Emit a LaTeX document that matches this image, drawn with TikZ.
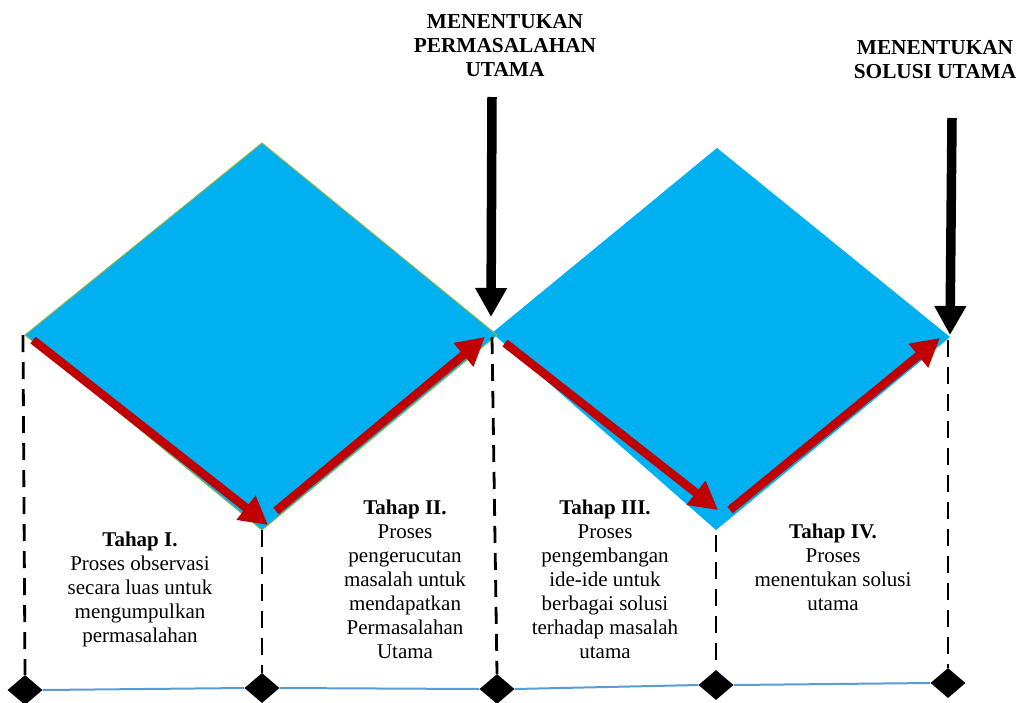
\documentclass[tikz,border=0pt]{standalone}
\usepackage{fontspec}
\setmainfont{Liberation Serif}
\usetikzlibrary{arrows.meta,shapes.geometric}
\definecolor{cyanfill}{HTML}{00B0F0}
\definecolor{darkred}{HTML}{C00000}
\definecolor{olivegreen}{HTML}{8DB548}
\definecolor{axisblue}{HTML}{5B9BD5}
\begin{document}
\begin{tikzpicture}[x=1pt,y=-1pt,
  redarrow/.style={draw=darkred,line width=8.5pt,-{Triangle[length=28pt,width=29pt]}},
  blackarrow/.style={draw=black,line width=9.5pt,-{Triangle[length=29pt,width=30pt]}},
  guide/.style={draw=black,line width=2.8pt,dash pattern=on 17pt off 10pt},
  marker/.style={diamond,fill=black,inner sep=0pt,minimum width=35pt,minimum height=30pt},
  phase/.style={align=center,inner sep=0pt,font=\fontsize{21}{24}\selectfont},
  headline/.style={align=center,inner sep=0pt,font=\bfseries\fontsize{21.3}{24}\selectfont}]
\useasboundingbox (0,0) rectangle (1019,702);
% diamond corners
\coordinate (aL) at (25,335);
\coordinate (aT) at (262,143);
\coordinate (aR) at (497,335);
\coordinate (aB) at (262,530);
\coordinate (bL) at (492,333);
\coordinate (bT) at (717,148);
\coordinate (bR) at (950,337);
\coordinate (bB) at (716,530);
% diamonds
\fill[cyanfill] (bL) -- (bT) -- (bR) -- (bB) -- cycle;
\filldraw[fill=cyanfill,draw=olivegreen,line width=1pt] (aL) -- (aT) -- (aR) -- (aB) -- cycle;
% bottom markers
\node[marker] (m1) at (25,690) {};
\node[marker] (m2) at (262,688) {};
\node[marker] (m3) at (497,689) {};
\node[marker] (m4) at (716,685) {};
\node[marker] (m5) at (948,683) {};
% axis line
\draw[axisblue,line width=2pt] (m1.east) -- (m2.west) (m2.east) -- (m3.west) (m3.east) -- (m4.west) (m4.east) -- (m5.west);
% dashed guides
\draw[guide] (23,335) -- (m1.north);
\draw[guide] (aB) -- (m2.north);
\draw[guide] (492,337) -- (m3.north);
\draw[guide] (716,535) -- (m4.north);
\draw[guide] (948,340) -- (m5.north);
% red arrows
\coordinate (r1s) at (33,340);   \coordinate (r1e) at (268,525);
\coordinate (r2s) at (276,511);  \coordinate (r2e) at (485,337);
\coordinate (r3s) at (505,343);  \coordinate (r3e) at (718,510);
\coordinate (r4s) at (730,510);  \coordinate (r4e) at (940,338);
\draw[redarrow] (r1s) -- (r1e);
\draw[redarrow] (r2s) -- (r2e);
\draw[redarrow] (r3s) -- (r3e);
\draw[redarrow] (r4s) -- (r4e);
% headlines and black arrows
\node[headline] (h1) at (505,46) {MENENTUKAN\\PERMASALAHAN\\UTAMA};
\node[headline] (h2) at (935,60) {MENENTUKAN\\SOLUSI UTAMA};
\coordinate (k1s) at (492,97);  \coordinate (k1e) at (491,317);
\coordinate (k2s) at (952,118); \coordinate (k2e) at (950,335);
\draw[blackarrow] (k1s) -- (k1e);
\draw[blackarrow] (k2s) -- (k2e);
% phase texts
\node[phase] (t1) at (140,589) {\textbf{Tahap I.}\\Proses observasi\\secara luas untuk\\mengumpulkan\\permasalahan};
\node[phase] (t2) at (405,579) {\textbf{Tahap II.}\\Proses\\pengerucutan\\masalah untuk\\mendapatkan\\Permasalahan\\Utama};
\node[phase] (t3) at (605,579) {\textbf{Tahap III.}\\Proses\\pengembangan\\ide-ide untuk\\berbagai solusi\\terhadap masalah\\utama};
\node[phase] (t4) at (833,567) {\textbf{Tahap IV.}\\Proses\\menentukan solusi\\utama};
\end{tikzpicture}
\end{document}
